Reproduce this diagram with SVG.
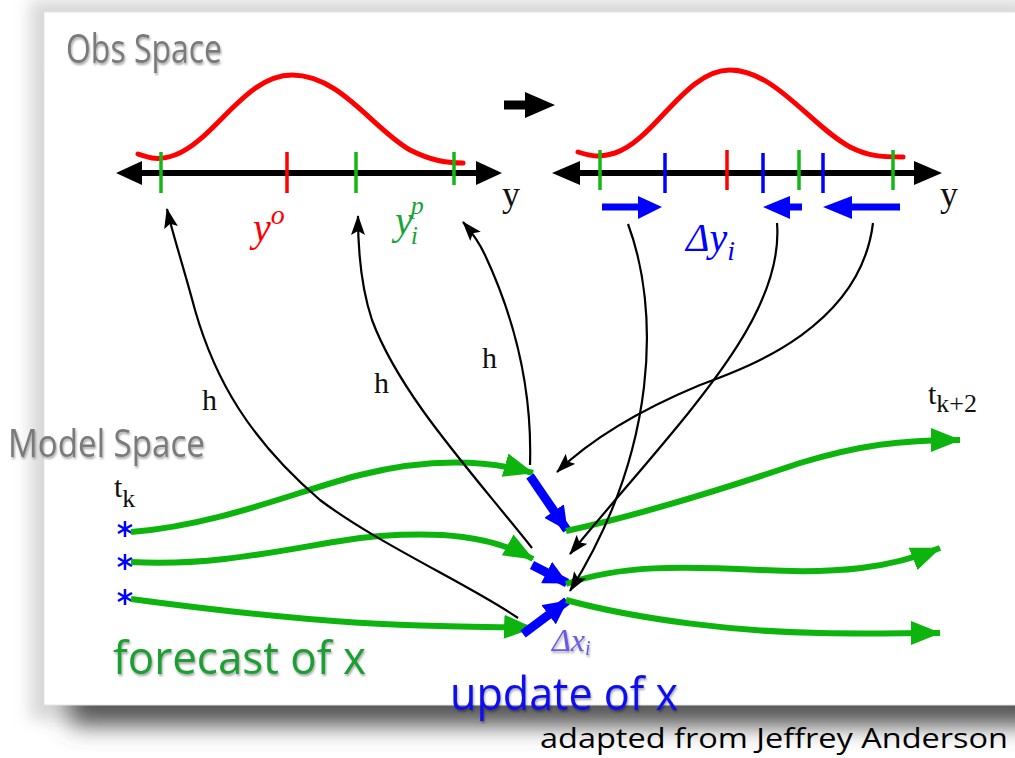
<svg xmlns="http://www.w3.org/2000/svg" width="1015" height="758" viewBox="0 0 1015 758">
<defs>
<filter id="blurBig" x="-10%" y="-10%" width="120%" height="130%"><feGaussianBlur stdDeviation="12"/></filter>
<filter id="blurSoft" x="-10%" y="-10%" width="120%" height="130%"><feGaussianBlur stdDeviation="8"/></filter>
<filter id="tshadow" x="-10%" y="-20%" width="120%" height="150%"><feDropShadow dx="1" dy="2" stdDeviation="1.2" flood-color="#000" flood-opacity="0.35"/></filter>
<marker id="ahBlack" markerUnits="userSpaceOnUse" markerWidth="20" markerHeight="14" refX="19" refY="7" orient="auto"><path d="M0,0 L20,7 L0,14 L4,7 z" fill="#000"/></marker>
<marker id="ahGreen" markerUnits="userSpaceOnUse" markerWidth="30" markerHeight="24" refX="29" refY="12" orient="auto"><path d="M0,0 L30,12 L0,24 z" fill="#0db40d"/></marker>
<marker id="ahBlue" markerUnits="userSpaceOnUse" markerWidth="24" markerHeight="24" refX="23" refY="12" orient="auto"><path d="M0,0 L24,12 L0,24 z" fill="#0000ff"/></marker>
<style>
.grayT{font-family:"Open Sans","Liberation Sans",sans-serif;fill:#7a7a7a;}
.serif{font-family:"Liberation Serif","DejaVu Serif",serif;fill:#111;}
.math{font-family:"Liberation Serif","DejaVu Serif",serif;font-style:italic;}
.axis{stroke:#000;stroke-width:6;fill:none;}
.tick{stroke-width:3.5;}
.tg{stroke:#14b814;}
.tr{stroke:#f00;}
.tb{stroke:#0000ff;}
.pdf{fill:none;stroke:#f00;stroke-width:5;stroke-linecap:round;}
.hcurve{fill:none;stroke:#000;stroke-width:2.2;marker-end:url(#ahBlack);}
.traj{fill:none;stroke:#0db40d;stroke-width:6;marker-end:url(#ahGreen);}
.upd{fill:none;stroke:#0000ff;stroke-width:9;marker-end:url(#ahBlue);}
.star{stroke:#0000ff;stroke-width:2.5;}
</style>
</defs>

<!-- background and panel -->
<rect x="0" y="0" width="1015" height="758" fill="#ffffff"/>
<rect x="30" y="0" width="1000" height="720" fill="#d8d8d8" filter="url(#blurSoft)"/>
<rect x="70" y="60" width="980" height="665" fill="#555" filter="url(#blurBig)"/>
<rect x="44" y="12" width="980" height="693" fill="#ffffff" stroke="#e4e4e4" stroke-width="1"/>

<g id="obs-left">
<path class="pdf" d="M138,154 C150,158 158,161 175,155 C215,140 245,75 292,75 C340,75 372,128 410,150 C430,160 445,163 463,163"/>
<line class="axis" x1="138" y1="173" x2="478" y2="173"/>
<polygon points="116,173 142,161 142,185" fill="#000"/>
<polygon points="502,173 476,161 476,185" fill="#000"/>
<line class="tick tg" x1="161" y1="152" x2="161" y2="193"/>
<line class="tick tr" x1="287" y1="152" x2="287" y2="193"/>
<line class="tick tg" x1="356" y1="152" x2="356" y2="193"/>
<line class="tick tg" x1="454" y1="152" x2="454" y2="185"/>
<text class="serif" x="502" y="206" font-size="36">y</text>
<text class="math" x="253" y="241" font-size="40" fill="#f00">y<tspan font-size="28" dy="-17">o</tspan></text>
<text class="math" x="395" y="234" font-size="40" fill="#1aa33a">y<tspan font-size="26" dx="-2" dy="-20">p</tspan><tspan font-size="26" dx="-13" dy="30">i</tspan></text>
</g>

<g id="transition-arrow">
<line x1="504" y1="105" x2="530" y2="105" stroke="#000" stroke-width="9"/>
<polygon points="555,105 525,92 525,118" fill="#000"/>
</g>

<g id="obs-right">
<path class="pdf" d="M578,152 C590,156 598,158 615,153 C655,140 685,70 730,70 C775,70 812,127 850,147 C868,156 880,157 903,157"/>
<line class="axis" x1="575" y1="173" x2="918" y2="173"/>
<polygon points="552,173 580,161 580,185" fill="#000"/>
<polygon points="942,173 914,161 914,185" fill="#000"/>
<line class="tick tg" x1="600" y1="150" x2="600" y2="190"/>
<line class="tick tb" x1="665" y1="153" x2="665" y2="193"/>
<line class="tick tr" x1="727" y1="150" x2="727" y2="190"/>
<line class="tick tb" x1="763" y1="153" x2="763" y2="193"/>
<line class="tick tg" x1="799" y1="150" x2="799" y2="190"/>
<line class="tick tb" x1="823" y1="153" x2="823" y2="193"/>
<line class="tick tg" x1="893" y1="150" x2="893" y2="190"/>
<text class="serif" x="940" y="206" font-size="36">y</text>
</g>

<g id="delta-y">
<line x1="602" y1="207" x2="642" y2="207" stroke="#0000ff" stroke-width="7"/>
<polygon points="662,207 638,196 638,219" fill="#0000ff"/>
<line x1="802" y1="207" x2="786" y2="207" stroke="#0000ff" stroke-width="7"/>
<polygon points="763,207 790,196 790,219" fill="#0000ff"/>
<line x1="900" y1="207" x2="848" y2="207" stroke="#0000ff" stroke-width="7"/>
<polygon points="823,207 852,196 852,219" fill="#0000ff"/>
<text class="math" x="686" y="251" font-size="40" fill="#0000ff">Δy<tspan font-size="28" dy="9">i</tspan></text>
</g>

<g id="labels">
<text class="grayT" x="66" y="63" font-size="40" textLength="156" lengthAdjust="spacingAndGlyphs" filter="url(#tshadow)">Obs Space</text>
<text class="grayT" x="8" y="457" font-size="38" textLength="197" lengthAdjust="spacingAndGlyphs" filter="url(#tshadow)">Model Space</text>
<text class="serif" x="114" y="497" font-size="30">t<tspan font-size="26" dy="10">k</tspan></text>
<text class="serif" x="928" y="404" font-size="30">t<tspan font-size="26" dy="8">k+2</tspan></text>
<text class="serif" x="202" y="410" font-size="30">h</text>
<text class="serif" x="374" y="393" font-size="30">h</text>
<text class="serif" x="482" y="368" font-size="30">h</text>
<text x="113" y="674" font-family="'Open Sans','Liberation Sans',sans-serif" font-size="46" fill="#1e9e32" textLength="253" lengthAdjust="spacingAndGlyphs" filter="url(#tshadow)">forecast of x</text>
<text x="450" y="710" font-family="'Open Sans','Liberation Sans',sans-serif" font-size="46" fill="#1010ee" textLength="228" lengthAdjust="spacingAndGlyphs" filter="url(#tshadow)">update of x</text>
<text class="math" x="552" y="651" font-size="32" fill="#6a5ae6" filter="url(#tshadow)">Δx<tspan font-size="20" dy="4">i</tspan></text>
<text x="540" y="748" font-family="'Open Sans','Liberation Sans',sans-serif" font-size="28" fill="#000" textLength="468" lengthAdjust="spacingAndGlyphs">adapted from Jeffrey Anderson</text>
</g>

<g id="stars">
<g transform="translate(125,529)"><line class="star" x1="0" y1="-8" x2="0" y2="8"/><line class="star" x1="-7" y1="-4" x2="7" y2="4"/><line class="star" x1="-7" y1="4" x2="7" y2="-4"/></g>
<g transform="translate(125,562)"><line class="star" x1="0" y1="-8" x2="0" y2="8"/><line class="star" x1="-7" y1="-4" x2="7" y2="4"/><line class="star" x1="-7" y1="4" x2="7" y2="-4"/></g>
<g transform="translate(125,597)"><line class="star" x1="0" y1="-8" x2="0" y2="8"/><line class="star" x1="-7" y1="-4" x2="7" y2="4"/><line class="star" x1="-7" y1="4" x2="7" y2="-4"/></g>
</g>

<g id="connectors">
<!-- forecast trajectories -->
<path class="traj" d="M131,532 C220,525 300,490 360,475 C420,460 480,458 533,473"/>
<path class="traj" d="M131,562 C230,568 320,540 380,536 C440,532 490,535 533,559"/>
<path class="traj" d="M131,599 C250,615 350,625 440,626 C480,627 510,627 533,628"/>
<!-- updates -->
<path class="upd" d="M530,476 L567,530"/>
<path class="upd" d="M532,565 L567,583"/>
<path class="upd" d="M523,634 L567,601"/>
<!-- continued trajectories -->
<path class="traj" d="M566,531 C640,515 720,490 800,463 C860,445 900,440 960,440"/>
<path class="traj" d="M566,584 C620,565 680,566 760,570 C840,574 890,568 940,548"/>
<path class="traj" d="M566,600 C640,620 740,632 820,633 C870,634 900,633 940,633"/>
<!-- h: model to obs -->
<path class="hcurve" d="M518,618 C470,585 380,545 320,500 C250,440 215,380 195,310 C183,265 172,232 167,209"/>
<path class="hcurve" d="M532,548 C470,470 400,395 372,320 C362,290 358,255 358,216"/>
<path class="hcurve" d="M530,465 C532,400 520,330 485,255 C478,240 470,230 463,222"/>
<!-- obs increments to model -->
<path class="hcurve" d="M628,224 C660,310 658,450 570,591"/>
<path class="hcurve" d="M777,223 C785,320 680,420 570,554"/>
<path class="hcurve" d="M873,223 C860,330 740,370 700,385 C640,410 590,440 557,472"/>
</g>
</svg>
